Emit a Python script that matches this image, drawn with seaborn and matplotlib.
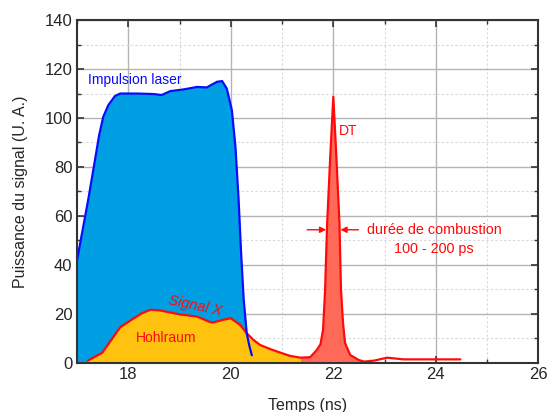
import numpy as np
import seaborn as sns
import matplotlib.pyplot as plt
from matplotlib.ticker import MultipleLocator

# Laser pulse
laser_t = [17.0, 17.22, 17.35, 17.43, 17.51, 17.61, 17.74, 17.84, 18.0, 18.17, 18.49, 18.65,
           18.82, 19.08, 19.34, 19.53, 19.73, 19.83, 19.92, 20.02, 20.09, 20.15, 20.2, 20.25,
           20.31, 20.36, 20.41]
laser_p = [42, 67, 83, 93, 100.5, 105.3, 109, 110, 110, 110, 109.8, 109.4,
           111, 111.7, 112.7, 112.5, 114.8, 115.1, 112.1, 103.2, 88.2, 67.2, 45, 26,
           12, 7, 3]

# X signal: hohlraum + DT peak
sig_t = [17.21, 17.49, 17.84, 18.04, 18.25, 18.43, 18.62, 19.0, 19.34, 19.6, 19.66, 19.85,
         20.0, 20.18, 20.31, 20.44, 20.57, 20.77, 20.96, 21.16, 21.36, 21.55, 21.68, 21.75,
         21.8, 21.84, 21.88, 21.94, 22.0, 22.06, 22.12, 22.15, 22.19, 22.23, 22.33, 22.49,
         22.6, 22.8, 23.05, 23.37, 24.48]
sig_p = [0.8, 4, 14.4, 17.2, 20, 21.6, 21.3, 19.7, 18.8, 16.5, 16.4, 17.5,
         18.1, 15.4, 12, 9.3, 7.2, 5.5, 4.1, 2.7, 2.0, 2.2, 5.2, 7.5,
         13.4, 29.7, 57, 84, 108.7, 84, 57, 29.7, 16, 7.9, 3.1, 1.1,
         0.4, 0.8, 2.0, 1.3, 1.3]

x_ticks = [18, 20, 22, 24, 26]
y_ticks = [0, 20, 40, 60, 80, 100, 120, 140]

sns.set_style("ticks")
plt.rcParams['font.family'] = ['Liberation Sans', 'DejaVu Sans']

fig = plt.figure(figsize=(5.47, 4.12), dpi=100)
ax = fig.add_axes([0.141, 0.12, 0.843, 0.831])

t_l = np.array(laser_t)
p_l = np.array(laser_p)
t_s = np.array(sig_t)
p_s = np.array(sig_p)

# fills
ax.fill_between(t_l, 0, p_l, color='#009fe3', lw=0, zorder=2)
m1 = t_s <= 21.5
ax.fill_between(t_s[m1], 0, p_s[m1], color='#ffc20e', lw=0, zorder=3)
m2 = (t_s >= 21.36) & (t_s <= 22.6)
ax.fill_between(t_s[m2], 0, p_s[m2], color='#ff6a58', lw=0, zorder=3)

sns.lineplot(x=laser_t, y=laser_p, ax=ax, color='#0a0aff', lw=1.6, sort=False,
             estimator=None, zorder=5)
sns.lineplot(x=sig_t, y=sig_p, ax=ax, color='#ff0a0a', lw=1.6, sort=False,
             estimator=None, zorder=4)

ax.set_xlim(17, 26)
ax.set_ylim(0, 140)
ax.set_xticks(x_ticks)
ax.set_yticks(y_ticks)
ax.xaxis.set_minor_locator(MultipleLocator(1))
ax.yaxis.set_minor_locator(MultipleLocator(10))
ax.grid(which='major', color='#b4b4b4', lw=1.0, zorder=0)
ax.grid(which='minor', color='#d8d8d8', lw=0.8, ls=(0, (2, 2)), zorder=0)
ax.set_axisbelow(True)
ax.tick_params(which='both', direction='in', top=True, right=True, labelsize=12,
               color='#333333')
ax.tick_params(which='major', length=5, width=1.2)
ax.tick_params(which='minor', length=3, width=1.0)
for s in ax.spines.values():
    s.set_linewidth(1.5)
    s.set_color('#333333')
    s.set_zorder(6)

ax.set_xlabel('Temps (ns)', fontsize=11.5, labelpad=11)
ax.set_ylabel('Puissance du signal (U. A.)', fontsize=11.5, labelpad=12)

ax.text(17.21, 115.6, 'Impulsion laser', color='#0a0aff', fontsize=10, va='center', zorder=7)
ax.text(19.3, 23.3, 'Signal X', color='#ff0a0a', fontsize=10.5, style='italic',
        rotation=-12, ha='center', va='center', zorder=7)
ax.text(18.74, 10.2, 'Hohlraum', color='#ff0a0a', fontsize=10, ha='center', va='center', zorder=7)
ax.text(22.29, 94.8, 'DT', color='#ff0a0a', fontsize=10, ha='center', va='center', zorder=7)
ax.text(23.97, 50.5, 'durée de combustion\n100 - 200 ps', color='#ff0a0a', fontsize=10.4,
        ha='center', va='center', linespacing=1.45, zorder=7)
arrow_kw = dict(arrowstyle='-|>', color='#ff0a0a', lw=1, mutation_scale=9,
                shrinkA=0, shrinkB=0)
ax.annotate('', xy=(21.86, 54.3), xytext=(21.49, 54.3), arrowprops=arrow_kw, zorder=7)
ax.annotate('', xy=(22.14, 54.3), xytext=(22.49, 54.3), arrowprops=arrow_kw, zorder=7)

fig.savefig('out.png', dpi=100)
